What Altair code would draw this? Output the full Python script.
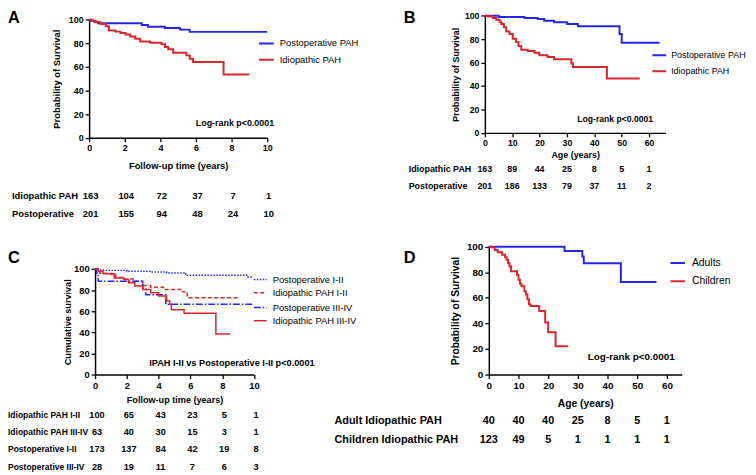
import math
import altair as alt
import pandas as pd

# ---------------- data ----------------
Y_TICKS = [0, 20, 40, 60, 80, 100]

# Panel A
A_TICKS = [0, 2, 4, 6, 8, 10]
A_POST_T = [0, 0.1, 0.3, 0.5, 2.95, 3.3, 4.25, 5.1, 5.65, 10.0]
A_POST_S = [100, 99, 98, 96.9, 95.5, 94.1, 93.0, 91.6, 89.7, 89.7]
A_IDIO_T = [0, 0.19, 0.37, 0.65, 0.93, 1.11, 1.48, 1.76, 2.04, 2.31, 2.59, 2.87, 3.43, 4.07, 4.26, 4.44, 4.72, 5.46, 5.65, 5.83, 7.55, 9.0]
A_IDIO_S = [100, 99.2, 97.8, 96.4, 94.4, 90.8, 89.9, 88.8, 87.4, 85.8, 83.8, 81.6, 80.4, 79.3, 76.8, 74.9, 72.0, 69.8, 67.0, 64.2, 53.6, 53.6]
A_RISK_LABELS = ["Idiopathic PAH", "Postoperative"]
A_RISK_IDIO = [163, 104, 72, 37, 7, 1]
A_RISK_POST = [201, 155, 94, 48, 24, 10]

# Panel B
B_TICKS = [0, 10, 20, 30, 40, 50, 60]
B_POST_T = [0, 5.1, 14.5, 19.3, 21.7, 25.3, 30.1, 34.0, 49.2, 50.0, 63.9]
B_POST_S = [100, 98.9, 98.0, 97.2, 95.8, 94.4, 93.0, 91.0, 84.5, 76.9, 76.9]
B_IDIO_T = [0, 1.2, 3.0, 4.2, 5.4, 6.0, 7.0, 7.8, 9.0, 10.2, 11.4, 12.3, 13.3, 15.7, 18.1, 19.9, 22.9, 25.3, 31.6, 32.2, 44.6, 56.6]
B_IDIO_S = [100, 99.4, 98.0, 96.6, 94.9, 93.0, 90.1, 86.5, 84.5, 80.3, 77.5, 74.1, 71.0, 69.9, 68.5, 66.2, 64.8, 62.8, 59.2, 56.3, 46.5, 46.5]
B_RISK_LABELS = ["Idiopathic PAH", "Postoperative"]
B_RISK_IDIO = [163, 89, 44, 25, 8, 5, 1]
B_RISK_POST = [201, 186, 133, 79, 37, 11, 2]

# Panel C
C_TICKS = [0, 2, 4, 6, 8, 10]
C_P12_T = [0, 0.2, 0.5, 2.0, 3.5, 4.5, 5.7, 9.6, 9.9]
C_P12_S = [100, 99, 98.7, 97.8, 97.2, 96.3, 94.0, 92.5, 92.5]
C_I12_T = [0, 0.3, 1.0, 1.3, 1.7, 2.5, 3.0, 3.5, 4.3, 5.5, 5.8, 9.1]
C_I12_S = [100, 96, 94.7, 92, 90.6, 88.4, 84.4, 82.8, 80.6, 78.4, 72.8, 72.8]
C_P34_T = [0, 0.1, 0.2, 3.0, 3.2, 4.45, 10.0]
C_P34_S = [100, 96, 88.4, 81, 75.6, 66.6, 66.6]
C_I34_T = [0, 0.2, 0.5, 1.2, 1.8, 2.1, 2.5, 3.0, 3.5, 4.0, 4.5, 4.7, 4.8, 5.6, 7.6, 8.5]
C_I34_S = [100, 97.8, 95.6, 91.5, 90, 86.9, 83.8, 80.6, 77.5, 74.4, 69.7, 66.6, 61.5, 58, 38.4, 38.4]
C_RISK_LABELS = ["Idiopathic PAH I-II", "Idiopathic PAH III-IV", "Postoperative I-II", "Postoperative III-IV"]
C_RISK_I12 = [100, 65, 43, 23, 5, 1]
C_RISK_I34 = [63, 40, 30, 15, 3, 1]
C_RISK_P12 = [173, 137, 84, 42, 19, 8]
C_RISK_P34 = [28, 19, 11, 7, 6, 3]

# Panel D
D_TICKS = [0, 10, 20, 30, 40, 50, 60]
D_ADULT_T = [0, 25.5, 31.5, 32.0, 44.5, 56.5]
D_ADULT_S = [100, 96.6, 92.3, 87.1, 72.4, 72.4]
D_CHILD_T = [0, 1, 2, 3, 4.5, 5.5, 6, 6.5, 7, 7.5, 9.5, 10, 10.5, 11, 12, 12.5, 13, 13.5, 14, 17, 19, 20, 22.5, 26.8]
D_CHILD_S = [100, 99.5, 97.4, 95.6, 93.6, 91.8, 89.7, 87.1, 84.5, 80.7, 78, 74.2, 71, 69, 65.2, 62.6, 58.8, 54.9, 53.6, 49.7, 40.7, 33, 22.2, 22.2]
D_RISK_LABELS = ["Adult Idiopathic PAH", "Children Idiopathic PAH"]
D_RISK_ADULT = [40, 40, 40, 25, 8, 5, 1]
D_RISK_CHILD = [123, 49, 5, 1, 1, 1, 1]

# ---------------- styling / layout ----------------
OFF = 8            # page margin
W, H = 748, 467    # whole canvas (autosize none), reaching the window edges
BLUE = "#2525f2"
RED = "#d8272c"
FONT = "Liberation Sans"


def px(v):
    return v - OFF


def panel(p):
    rows = []
    for name, ts, ss in p["series"]:
        for t, s in zip(ts, ss):
            rows.append({"g": name, "t": t, "s": s})
    df = pd.DataFrame(rows)
    names = [s[0] for s in p["series"]]
    dashes = p.get("dashes") or [[1, 0]] * len(names)

    x0, x1 = px(p["xpx"][0]), px(p["xpx"][1])
    yb, yt = px(p["ypx"][0]), px(p["ypx"][1])
    xs = alt.Scale(domain=p["xdom"], range=[x0, x1], nice=False, zero=False)
    ys = alt.Scale(domain=[0, 100], range=[yb, yt], nice=False, zero=False)
    common = dict(grid=False, domainColor="black", domainWidth=1.5, tickColor="black",
                  tickWidth=1.3, tickSize=4, labelFont=FONT, labelFontSize=p["fs_tick"],
                  labelFontWeight="bold", labelColor="black", labelPadding=2,
                  labelFlush=False, labelOverlap=False, titleFont=FONT,
                  titleFontSize=p["fs_title"], titleFontWeight="bold", titleColor="black",
                  titleBaseline="middle")
    xaxis = alt.Axis(orient="bottom", offset=yb - H, values=p["ticks"], title=p["xtitle"],
                     titleY=p["xtitle_y"] - p["ypx"][0], **common)
    yaxis = alt.Axis(orient="left", offset=-x0, values=Y_TICKS, title=p["ytitle"],
                     titleX=p["ytitle_x"] - p["xpx"][0], **common)
    sw = p["line_w"]

    enc = dict(
        x=alt.X("t:Q", scale=xs, axis=xaxis),
        y=alt.Y("s:Q", scale=ys, axis=yaxis),
        color=alt.Color("g:N", scale=alt.Scale(domain=names, range=p["colors"]), legend=None),
        strokeDash=alt.StrokeDash("g:N", scale=alt.Scale(domain=names, range=dashes), legend=None),
    )
    layers = [alt.Chart(df).mark_line(interpolate="step-after", strokeWidth=sw).encode(**enc)]

    # legend (key line + label per series)
    lg = p["legend"]
    for i, name in enumerate(names):
        ly = px(lg["rows"][i])
        ldf = pd.DataFrame({"label": [name]})
        layers.append(
            alt.Chart(ldf).mark_rule(color=p["colors"][i], strokeWidth=sw, strokeDash=dashes[i])
            .encode(x=alt.value(px(lg["sym"][0])), x2=alt.value(px(lg["sym"][1])), y=alt.value(ly))
        )
        layers.append(
            alt.Chart(ldf).mark_text(font=FONT, fontSize=lg["fs"], color="black",
                                     align="left", baseline="middle")
            .encode(x=alt.value(px(lg["label_x"])), y=alt.value(ly), text="label:N")
        )

    # number-at-risk table (numbers share the panel's x scale / axis)
    tb = p["table"]
    for label, counts, ypage in tb["rows"]:
        tdf = pd.DataFrame({"t": p["ticks"], "n": counts})
        layers.append(
            alt.Chart(tdf).mark_text(font=FONT, fontSize=tb["fs"], fontWeight="bold", color="black",
                                     align="center", baseline="middle", dx=tb.get("dx", 0))
            .encode(x=alt.X("t:Q", scale=xs, axis=xaxis), y=alt.value(px(ypage)), text="n:Q")
        )
        layers.append(
            alt.Chart(pd.DataFrame({"label": [label]})).mark_text(
                font=FONT, fontSize=tb.get("fs_label", tb["fs"]), fontWeight="bold", color="black",
                align="left", baseline="middle")
            .encode(x=alt.value(max(px(tb["x"]), 0)), y=alt.value(px(ypage)), text="label:N")
        )

    # annotation (log-rank)
    nt = p["note"]
    layers.append(
        alt.Chart(pd.DataFrame({"label": [nt["text"]]})).mark_text(
            font=FONT, fontSize=nt["fs"], fontWeight="bold", color="black",
            align="right", baseline="middle")
        .encode(x=alt.value(px(nt["x"])), y=alt.value(px(nt["y"])), text="label:N")
    )
    # panel letter
    lt = p["letter"]
    layers.append(
        alt.Chart(pd.DataFrame({"label": [lt["text"]]})).mark_text(
            font=FONT, fontSize=16.5, fontWeight="bold", color="black",
            align="left", baseline="alphabetic")
        .encode(x=alt.value(max(px(lt["x"]), 0)), y=alt.value(px(lt["y"])), text="label:N")
    )
    return alt.layer(*layers)


pA = panel(dict(
    series=[("Postoperative PAH", A_POST_T, A_POST_S), ("Idiopathic PAH", A_IDIO_T, A_IDIO_S)],
    colors=[BLUE, RED], xdom=[0, 10], xpx=(90, 270), ypx=(136.7, 17.3), ticks=A_TICKS,
    xtitle="Follow-up time (years)", ytitle="Probability of Survival",
    xtitle_y=165, ytitle_x=57, fs_tick=9, fs_title=9.5, line_w=2,
    legend=dict(sym=(261.7, 276.7), label_x=282.7, rows=[41.3, 57.7], fs=9.5),
    note=dict(text="Log-rank p<0.0001", x=277, y=122, fs=9),
    letter=dict(text="A", x=3, y=20.5),
    table=dict(x=12, fs=9.5, dx=1.5, rows=[(A_RISK_LABELS[0], A_RISK_IDIO, 195.7),
                                           (A_RISK_LABELS[1], A_RISK_POST, 213.3)]),
))

pB = panel(dict(
    series=[("Postoperative PAH", B_POST_T, B_POST_S), ("Idiopathic PAH", B_IDIO_T, B_IDIO_S)],
    colors=[BLUE, RED], xdom=[0, 66], xpx=(490, 672.6), ypx=(131.7, 13.3), ticks=B_TICKS,
    xtitle="Age (years)", ytitle="Probability of Survival",
    xtitle_y=154, ytitle_x=460, fs_tick=8.8, fs_title=9, line_w=2,
    legend=dict(sym=(659.3, 673.3), label_x=678.3, rows=[53.3, 69.3], fs=9),
    note=dict(text="Log-rank p<0.0001", x=660, y=118, fs=8.7),
    letter=dict(text="B", x=408, y=20.5),
    table=dict(x=413, fs=9, rows=[(B_RISK_LABELS[0], B_RISK_IDIO, 168.5),
                                  (B_RISK_LABELS[1], B_RISK_POST, 185.5)]),
))

pC = panel(dict(
    series=[("Postoperative I-II", C_P12_T, C_P12_S), ("Idiopathic PAH I-II", C_I12_T, C_I12_S),
            ("Postoperative III-IV", C_P34_T, C_P34_S), ("Idiopathic PAH III-IV", C_I34_T, C_I34_S)],
    colors=[BLUE, RED, BLUE, RED], dashes=[[1.5, 1.5], [4, 2.5], [7, 2, 1.5, 2], [1, 0]],
    xdom=[0, 10], xpx=(96, 256.7), ypx=(376, 269.3), ticks=C_TICKS,
    xtitle="Follow-up time (years)", ytitle="Cumulative survival",
    xtitle_y=401.7, ytitle_x=68, fs_tick=9.5, fs_title=9.2, line_w=1.5,
    legend=dict(sym=(256.5, 269.5), label_x=275.5, rows=[280, 293.3, 308.3, 321.7], fs=9.5),
    note=dict(text="IPAH I-II vs Postoperative I-II p<0.0001", x=318, y=364, fs=9.3),
    letter=dict(text="C", x=3, y=263),
    table=dict(x=2, fs=9.3, fs_label=8.6, dx=2,
               rows=[(C_RISK_LABELS[0], C_RISK_I12, 416.7),
                     (C_RISK_LABELS[1], C_RISK_I34, 434),
                     (C_RISK_LABELS[2], C_RISK_P12, 451.7),
                     (C_RISK_LABELS[3], C_RISK_P34, 469.3)]),
))

pD = panel(dict(
    series=[("Adults", D_ADULT_T, D_ADULT_S), ("Children", D_CHILD_T, D_CHILD_S)],
    colors=[BLUE, RED], xdom=[0, 65], xpx=(494, 689), ypx=(376, 246.7), ticks=D_TICKS,
    xtitle="Age (years)", ytitle="Probability of Survival",
    xtitle_y=405.5, ytitle_x=460.7, fs_tick=10, fs_title=10.4, line_w=2,
    legend=dict(sym=(677.7, 692.3), label_x=699.3, rows=[263.3, 281.7], fs=10.5),
    note=dict(text="Log-rank p<0.0001", x=682, y=358, fs=10),
    letter=dict(text="D", x=408, y=263),
    table=dict(x=338, fs=11, rows=[(D_RISK_LABELS[0], D_RISK_ADULT, 423.3),
                                   (D_RISK_LABELS[1], D_RISK_CHILD, 442.3)]),
))

chart = (
    alt.layer(pA, pB, pC, pD)
    .resolve_scale(x="independent", y="independent", color="independent", strokeDash="independent")
    .resolve_axis(x="independent", y="independent")
    .properties(width=W, height=H, padding=0, autosize=alt.AutoSizeParams(type="none"))
    .configure_view(strokeWidth=0)
)

chart.save("out.html", embed_options={"renderer": "svg", "actions": False})
